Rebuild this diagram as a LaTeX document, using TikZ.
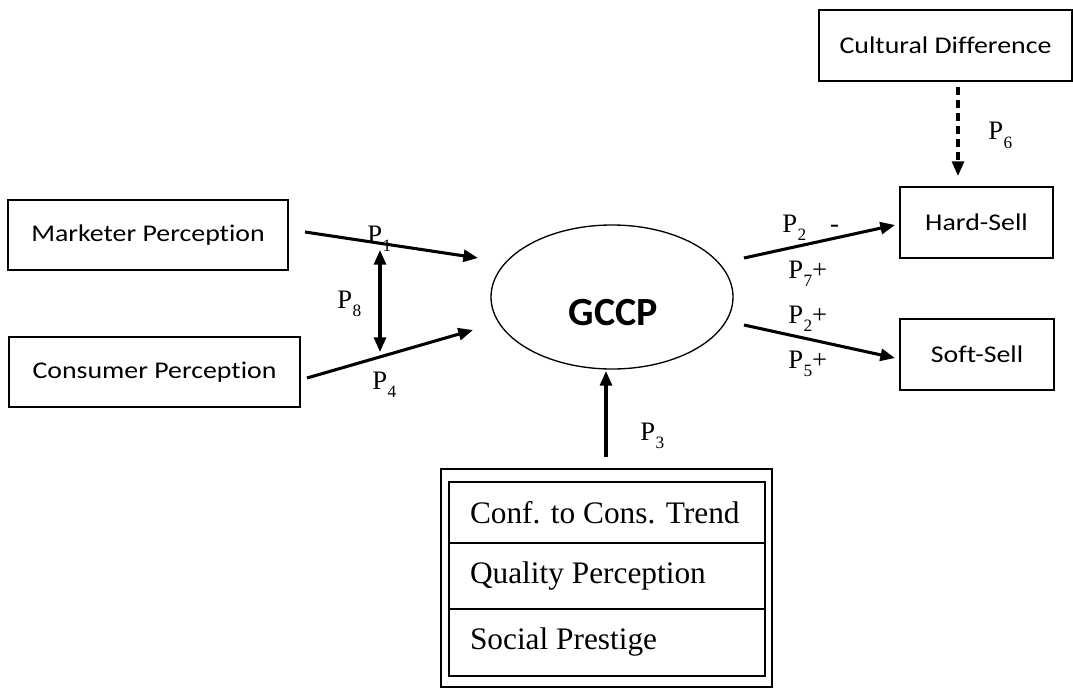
\documentclass[tikz,border=0pt]{standalone}
\usepackage{fontspec}
\setmainfont{Liberation Serif}
\newfontfamily\boxfont[FakeStretch=1.16,Ligatures=NoCommon]{Carlito}
\newfontfamily\titlefont{Carlito}
\usetikzlibrary{arrows.meta,shapes.geometric}
\newcommand\Pl[2]{P\kern0.3pt\raisebox{-6.5pt}{\fontsize{13}{13}\selectfont #1}#2}
\begin{document}
\begin{tikzpicture}[x=0.75pt,y=-0.75pt,
  box/.style={draw,line width=1.1pt,inner sep=0pt,font=\boxfont\fontsize{18}{18}\selectfont},
  conn/.style={line width=2.3pt,-{Triangle[length=11pt,width=9pt]}},
  plabel/.style={anchor=base west,inner sep=0pt,font=\fontsize{20}{20}\selectfont},
  row/.style={draw,line width=1.6pt,minimum width=237pt,inner xsep=15.75pt,inner ysep=0pt,font=\fontsize{23.5}{23.5}\selectfont}]
\path[use as bounding box] (0,0) rectangle (1073,688);
% boxes
\node[box,minimum width=210pt,minimum height=52.5pt] (mkt) at (148,235) {Marketer Perception};
\node[box,minimum width=218.25pt,minimum height=52.5pt] (con) at (154.5,372) {Consumer Perception};
\node[box,minimum width=189.75pt,minimum height=53.25pt] (cul) at (945.5,45.5) {Cultural Difference};
\node[box,minimum width=114.75pt,minimum height=53.25pt] (hard) at (976.5,222.5) {Hard-Sell};
\node[box,minimum width=115.5pt,minimum height=53.25pt] (soft) at (977,354.5) {Soft-Sell};
\node[draw,ellipse,line width=1pt,minimum width=181.5pt,minimum height=108pt,inner sep=0pt] (gccp) at (612,297) {};
\node[inner sep=0pt,font=\titlefont\bfseries\fontsize{30}{30}\selectfont] (gccptext) at (613.5,312.5) {GCCP};
% bottom factor box
\node[draw,line width=1.6pt,minimum width=248.25pt,minimum height=163.5pt] (outer) at (606.5,578) {};
\node[row,minimum height=45.75pt] (r1) at (607,512.5) {\makebox[205.5pt][l]{Conf. to Cons. Trend}};
\node[row,minimum height=49.5pt] (r2) at (607,576) {\makebox[205.5pt][l]{Quality Perception}};
\node[row,minimum height=50.25pt] (r3) at (607,642.5) {\makebox[205.5pt][l]{Social Prestige}};
% connector endpoints
\coordinate (a1s) at (305,232); \coordinate (a1e) at (478,258);
\coordinate (a4s) at (307,378); \coordinate (a4e) at (473,330);
\coordinate (a8s) at (380,250); \coordinate (a8e) at (380,352);
\coordinate (a2s) at (744,258); \coordinate (a2e) at (895,225);
\coordinate (a5s) at (744,325); \coordinate (a5e) at (895,358);
\coordinate (a6s) at (958,87); \coordinate (a6e) at (958,176);
\coordinate (a3s) at (606,457); \coordinate (a3e) at (606,371);
\draw[conn] (a1s) -- (a1e);
\draw[conn] (a4s) -- (a4e);
\draw[line width=2.3pt,{Triangle[length=11pt,width=9pt]}-{Triangle[length=11pt,width=9pt]}] (a8s) -- (a8e);
\draw[conn] (a2s) -- (a2e);
\draw[conn] (a5s) -- (a5e);
\draw[conn,dash pattern=on 6pt off 3.8pt] (a6s) -- (a6e);
\draw[conn] (a3s) -- (a3e);
% labels
\node[plabel] (l1) at (367,243) {\Pl{1}{}};
\node[plabel] (l8) at (337,308) {\Pl{8}{}};
\node[plabel] (l4) at (372,389) {\Pl{4}{}};
\node[plabel] (l2a) at (782,232) {\Pl{2}{\hspace{0.9em}-}};
\node[plabel] (l7) at (788,278) {\Pl{7}{+}};
\node[plabel] (l2b) at (788,323) {\Pl{2}{+}};
\node[plabel] (l5) at (788,368) {\Pl{5}{+}};
\node[plabel] (l6) at (988,140) {\Pl{6}{}};
\node[plabel] (l3) at (640,440) {\Pl{3}{}};
\end{tikzpicture}
\end{document}
